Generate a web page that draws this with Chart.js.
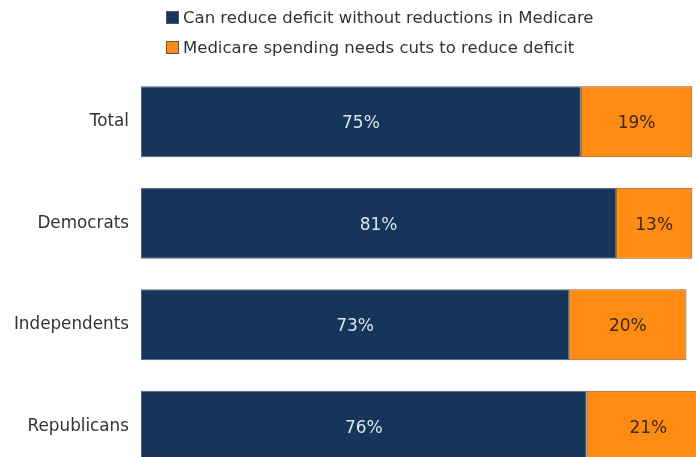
<!DOCTYPE html>
<html>
<head>
<meta charset="utf-8">
<script src="https://cdn.jsdelivr.net/npm/chart.js@4"></script>
<style>
    html, body { margin: 0; padding: 0; background: #fff; overflow: hidden; }
    #wrap { position: relative; width: 696px; height: 457px; overflow: hidden; }
    #chart { position: absolute; left: 0; top: 0; }
    .legend-row {
        position: absolute; left: 166px; height: 13px;
        display: flex; align-items: center;
        font-family: 'DejaVu Sans', sans-serif; font-size: 16.5px; color: #333;
        white-space: nowrap;
    }
    .legend-box { width: 13px; height: 13px; box-sizing: border-box; border: 1px solid #555; margin-right: 4px; }
</style>
</head>
<body>
<div id="wrap">
    <canvas id="chart" width="696" height="499"></canvas>
    <div id="legend"></div>
</div>
<script>
// Datos del gráfico
const groups = ['Total', 'Democrats', 'Independents', 'Republicans'];
const seriesNames = [
    'Can reduce deficit without reductions in Medicare',
    'Medicare spending needs cuts to reduce deficit'
];
const noCuts = [75, 81, 73, 76];
const needCuts = [19, 13, 20, 21];

// Colores
const NAVY = '#15355a';
const ORANGE = '#ff8a14';

/**
 * Plugin para escribir el porcentaje en el centro de cada barra.
 */
const valueLabels = {
    id: 'valueLabels',
    afterDatasetsDraw(chart) {
        const ctx = chart.ctx;
        ctx.save();
        ctx.font = '17px "DejaVu Sans", sans-serif';
        ctx.textAlign = 'center';
        ctx.textBaseline = 'middle';
        chart.data.datasets.forEach((ds, i) => {
            const meta = chart.getDatasetMeta(i);
            ctx.fillStyle = ds.labelColor;
            meta.data.forEach((bar, j) => {
                const x = (bar.x + bar.base) / 2;
                ctx.fillText(ds.data[j] + '%', x, bar.y + 2);
            });
        });
        ctx.restore();
    }
};

const ctx = document.getElementById('chart').getContext('2d');
const chart = new Chart(ctx, {
    type: 'bar',
    data: {
        labels: groups,
        datasets: [{
            label: seriesNames[0],
            data: noCuts,
            backgroundColor: NAVY,
            borderColor: '#5a6270',
            borderWidth: 1,
            borderSkipped: false,
            labelColor: '#dde3ea'
        }, {
            label: seriesNames[1],
            data: needCuts,
            backgroundColor: ORANGE,
            borderColor: '#8a5a22',
            borderWidth: 1,
            borderSkipped: false,
            labelColor: '#3a2a10'
        }]
    },
    options: {
        indexAxis: 'y',
        responsive: false,
        animation: false,
        categoryPercentage: 1,
        barPercentage: 0.7,
        layout: { padding: { top: 71, right: 0, bottom: 0, left: 0 } },
        plugins: {
            legend: { display: false },
            tooltip: { enabled: false }
        },
        scales: {
            x: {
                stacked: true,
                min: 0,
                max: 94.63,
                display: false
            },
            y: {
                stacked: true,
                grid: { display: false, drawTicks: false },
                border: { display: false },
                ticks: {
                    color: '#333',
                    padding: 12,
                    font: { family: 'DejaVu Sans', size: 16.8 }
                },
                afterFit(scale) { scale.width = 141; }
            }
        }
    },
    plugins: [valueLabels]
});

// Leyenda en HTML
const legend = document.getElementById('legend');
chart.data.datasets.forEach((ds, i) => {
    const row = document.createElement('div');
    row.className = 'legend-row';
    row.style.top = (11 + i * 30) + 'px';
    row.innerHTML = `<span class="legend-box" style="background:${ds.backgroundColor}"></span>${ds.label}`;
    legend.appendChild(row);
});
</script>
</body>
</html>
